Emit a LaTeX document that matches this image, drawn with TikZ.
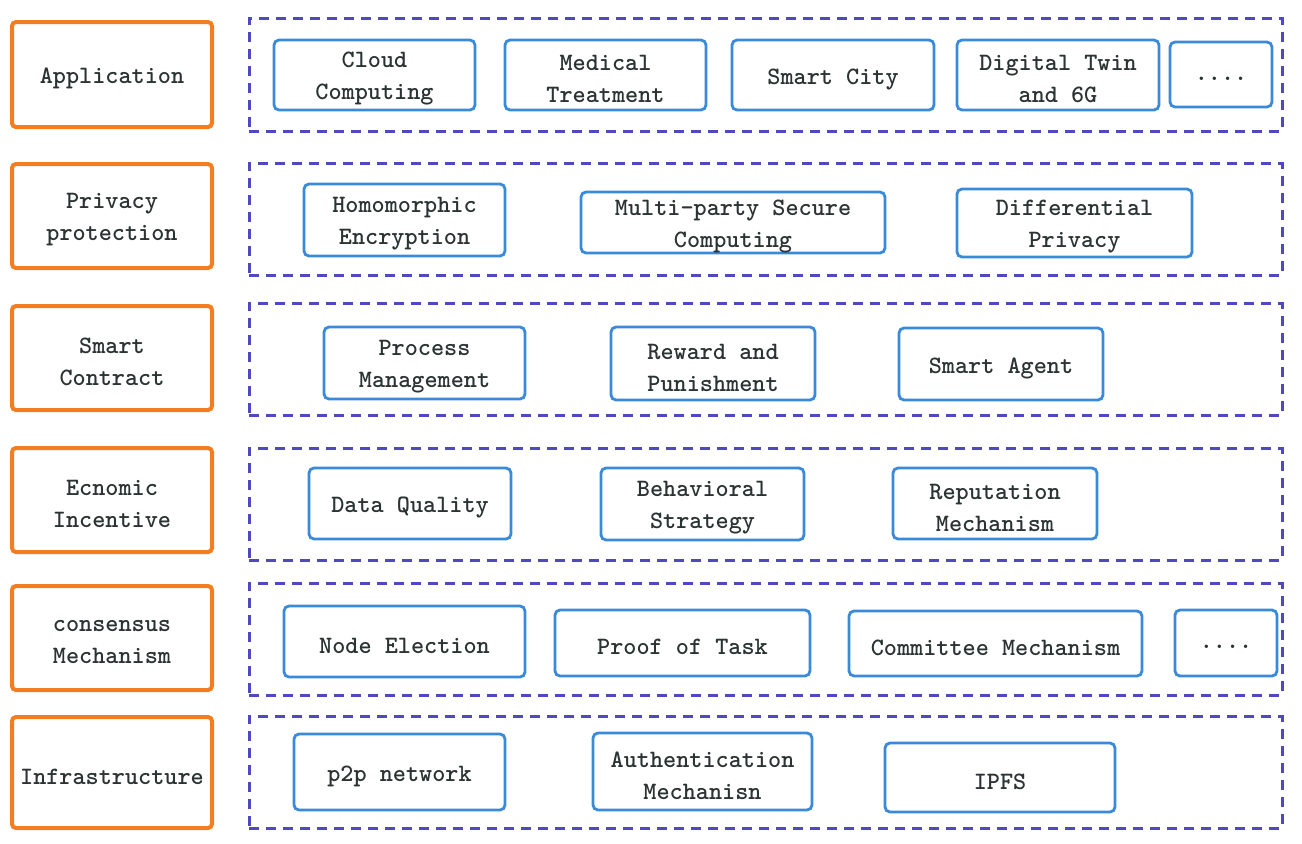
\documentclass[tikz,border=0pt]{standalone}
\usepackage{fontspec}
\definecolor{orng}{HTML}{F47D20}
\definecolor{dashc}{HTML}{5048C0}
\definecolor{blu}{HTML}{3A8ADA}
\definecolor{txt}{HTML}{2B3333}
\newcommand\boxat[7]{\node[#1, minimum width={(#4-#2)*0.5pt}, minimum height={(#5-#3)*0.5pt}, label={[lbl, yshift=-2pt]center:{#7}}] (#6) at ({(#2+#4)/2},{(#3+#5)/2}) {};}
\begin{document}
\begin{tikzpicture}[x=0.5pt,y=-0.5pt,
  lbl/.style={font=\ttfamily\bfseries\fontsize{12.5}{16}\selectfont, text=txt, align=center, inner sep=0pt},
  layerbox/.style={draw=orng, line width=2pt, rounded corners=2pt, inner sep=0pt},
  groupbox/.style={draw=dashc, line width=1.5pt, dash pattern=on 5pt off 3.5pt, inner sep=0pt},
  itembox/.style={draw=blu, line width=1.4pt, rounded corners=2.5pt, inner sep=0pt}]
\useasboundingbox[fill=white] (0,0) rectangle (1302,843);
% layer labels
\boxat{layerbox}{12}{22}{212}{127}{o1}{Application}
\boxat{layerbox}{12}{164}{212}{268}{o2}{Privacy\\protection}
\boxat{layerbox}{12}{306}{212}{410}{o3}{Smart\\Contract}
\boxat{layerbox}{12}{448}{212}{552}{o4}{Ecnomic\\Incentive}
\boxat{layerbox}{12}{586}{212}{690}{o5}{consensus\\Mechanism}
\boxat{layerbox}{12}{717}{212}{828}{o6}{Infrastructure}
% dashed groups
\boxat{groupbox}{249}{18}{1282}{131}{g1}{}
\boxat{groupbox}{249}{163}{1282}{275}{g2}{}
\boxat{groupbox}{249}{303}{1282}{415}{g3}{}
\boxat{groupbox}{249}{448}{1282}{560}{g4}{}
\boxat{groupbox}{249}{583}{1282}{695}{g5}{}
\boxat{groupbox}{249}{716}{1282}{828}{g6}{}
% row 1
\boxat{itembox}{274}{40}{475}{110}{a1}{Cloud\\Computing}
\boxat{itembox}{505}{40}{706}{110}{a2}{Medical\\Treatment}
\boxat{itembox}{732}{40}{934}{110}{a3}{Smart City}
\boxat{itembox}{957}{40}{1159}{110}{a4}{Digital Twin\\and 6G}
\boxat{itembox}{1170}{42}{1272}{107}{a5}{....}
% row 2
\boxat{itembox}{304}{184}{505}{256}{b1}{Homomorphic\\Encryption}
\boxat{itembox}{581}{192}{885}{253}{b2}{Multi-party Secure\\Computing}
\boxat{itembox}{957}{189}{1192}{257}{b3}{Differential\\Privacy}
% row 3
\boxat{itembox}{324}{327}{525}{399}{c1}{Process\\Management}
\boxat{itembox}{611}{327}{815}{400}{c2}{Reward and\\Punishment}
\boxat{itembox}{899}{328}{1103}{400}{c3}{Smart Agent}
% row 4
\boxat{itembox}{309}{468}{511}{539}{d1}{Data Quality}
\boxat{itembox}{601}{468}{804}{540}{d2}{Behavioral\\Strategy}
\boxat{itembox}{893}{468}{1097}{539}{d3}{Reputation\\Mechanism}
% row 5
\boxat{itembox}{284}{606}{525}{677}{e1}{Node Election}
\boxat{itembox}{555}{610}{810}{676}{e2}{Proof of Task}
\boxat{itembox}{849}{611}{1142}{676}{e3}{Committee Mechanism}
\boxat{itembox}{1175}{610}{1277}{676}{e4}{....}
% row 6
\boxat{itembox}{294}{734}{505}{810}{f1}{p2p network}
\boxat{itembox}{593}{733}{812}{810}{f2}{Authentication\\Mechanisn}
\boxat{itembox}{885}{743}{1115}{812}{f3}{IPFS}
\end{tikzpicture}
\end{document}
